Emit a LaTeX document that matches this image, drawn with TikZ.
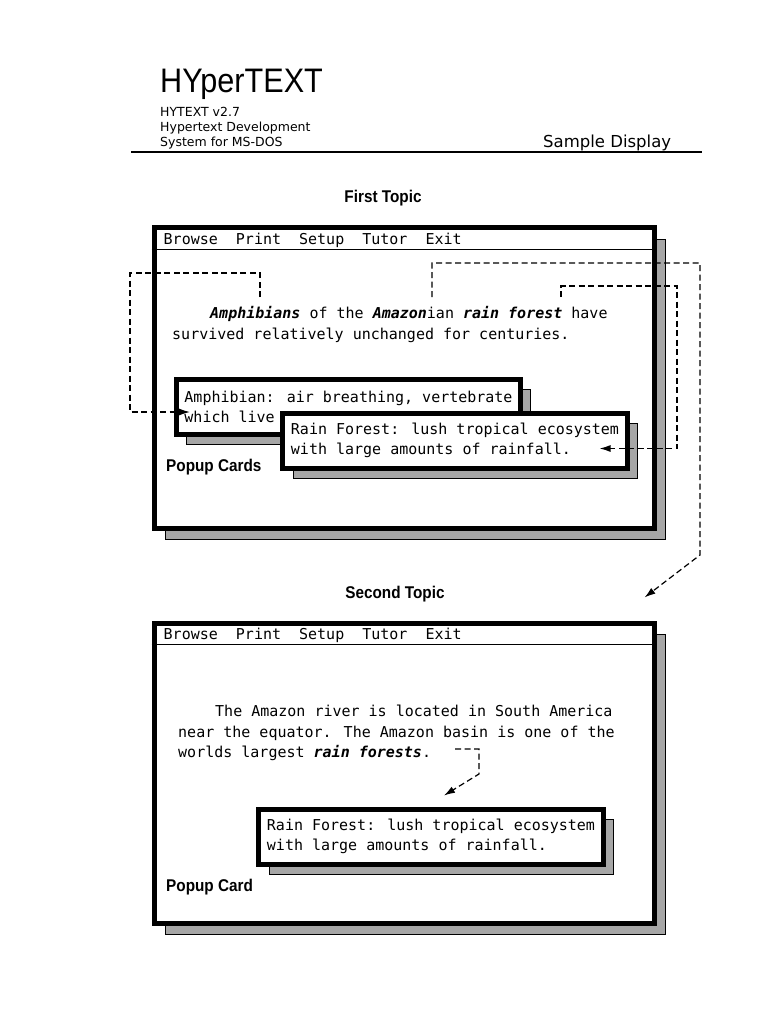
\documentclass[tikz,border=0pt]{standalone}
\usepackage{fontspec}
\setmainfont{DejaVu Sans}
\newfontfamily\scrfont{DejaVu Sans Mono}
\newfontfamily\lblfont[FakeStretch=0.9]{Liberation Sans}
\newfontfamily\logofont[FakeStretch=0.9]{Liberation Sans}
\usetikzlibrary{arrows.meta, positioning, calc, shadows}
\tikzset{
    win_frame/.style={rectangle, draw, line width=5pt, fill=white, minimum width=500pt, minimum height=300pt, drop shadow={shadow xshift=11pt, shadow yshift=-11pt, fill=black!35, draw=black, line width=0.6pt, opacity=1}},
    popup_card/.style={rectangle, draw, line width=5pt, fill=white, align=left, inner xsep=8pt, minimum height=55pt, font=\scrfont\fontsize{15}{20}\selectfont, drop shadow={shadow xshift=10pt, shadow yshift=-10pt, fill=black!35, draw=black, line width=0.6pt, opacity=1}},
    screen_text/.style={anchor=base west, inner sep=0pt, font=\scrfont\fontsize{15}{20}\selectfont},
    head_text/.style={anchor=base west, inner sep=0pt, font=\fontsize{12.5}{14}\selectfont},
    topic_label/.style={inner sep=0pt, font=\lblfont\bfseries\fontsize{17}{19}\selectfont},
    link_arrow/.style={dash pattern=on 6pt off 3.5pt, line width=1.2pt, -{Latex[length=11pt, width=7pt]}}
}
\newcommand{\hot}[1]{\textbf{\textit{#1}}}
\begin{document}
\begin{tikzpicture}[x=1pt, y=-1pt]
\useasboundingbox (0,0) rectangle (782,1024);

% header
\node (logo) [anchor=base west, inner sep=0pt, font=\logofont\fontsize{34}{34}\selectfont] at (160,93) {HYperTEXT};
\node (ver) [head_text] at (160,117) {HYTEXT v2.7};
\node (sys1) [head_text] at (160,132) {Hypertext Development};
\node (sys2) [head_text] at (160,147) {System for MS-DOS};
\node (sample) [head_text, font=\fontsize{16.5}{18}\selectfont] at (543,148) {Sample Display};
\draw [line width=2pt] (131,152) -- (702,152);

% first topic
\node (topic1) [topic_label] at (383,198) {First Topic};
\node (win1) [win_frame] at (404,378) {};
\node (menu1) [screen_text] at ($(win1.north west)+(12,19)$) {Browse~~Print~~Setup~~Tutor~~Exit};
\draw [line width=1.5pt] ($(win1.north west)+(0,24)$) -- ($(win1.north east)+(0,24)$);
\node (txtA1) [screen_text] at (210,318) {\hot{Amphibians} of the \hot{Amazon}ian \hot{rain forest} have};
\node (txtA2) [screen_text] at (172,339) {survived relatively unchanged for centuries.};
\node (cards1) [topic_label, anchor=base west] at (166,471) {Popup Cards};
\node (pop1) [popup_card] at (348.5,407) {Amphibian: air breathing, vertebrate\\which live};
\node (pop2) [popup_card] at (455,440.5) {Rain Forest: lush tropical ecosystem\\with large amounts of rainfall.};

\coordinate (amphib) at (260,297);
\coordinate (amazon) at (432,297);
\coordinate (forest) at (561,297);
\coordinate (lnkA) at (130,273);
\coordinate (lnkB) at (700,263);
\coordinate (lnkC) at (700,555);
\coordinate (lnkD) at (677,286);

% second topic
\node (topic2) [topic_label] at (395,594) {Second Topic};
\node (win2) [win_frame] at (404,773) {};
\node (menu2) [screen_text] at ($(win2.north west)+(12,19)$) {Browse~~Print~~Setup~~Tutor~~Exit};
\draw [line width=1.5pt] ($(win2.north west)+(0,24)$) -- ($(win2.north east)+(0,24)$);
\node (txtB1) [screen_text] at (215,716) {The Amazon river is located in South America};
\node (txtB2) [screen_text] at (178,737) {near the equator. The Amazon basin is one of the};
\node (txtB3) [screen_text] at (178,757) {worlds largest \hot{rain forests}.};
\node (cards2) [topic_label, anchor=base west] at (166,891) {Popup Card};
\node (pop3) [popup_card] at (431,836.5) {Rain Forest: lush tropical ecosystem\\with large amounts of rainfall.};

\coordinate (forest2) at (455,749);
\coordinate (lnkE) at (479,749);
\coordinate (lnkF) at (479,774);

% links
\draw [link_arrow] (amphib) |- (lnkA) |- ($(pop1.west)+(16,5)$);
\draw [link_arrow] (amazon) |- (lnkB) -- (lnkC) -- ($(win2.north east)+(-12,-23)$);
\draw [link_arrow] (forest) |- (lnkD) |- ($(pop2.east)+(-30,8)$);
\draw [link_arrow] (forest2) -- (lnkE) -- (lnkF) -- ($(pop3.north)+(13,-11)$);
\end{tikzpicture}
\end{document}
